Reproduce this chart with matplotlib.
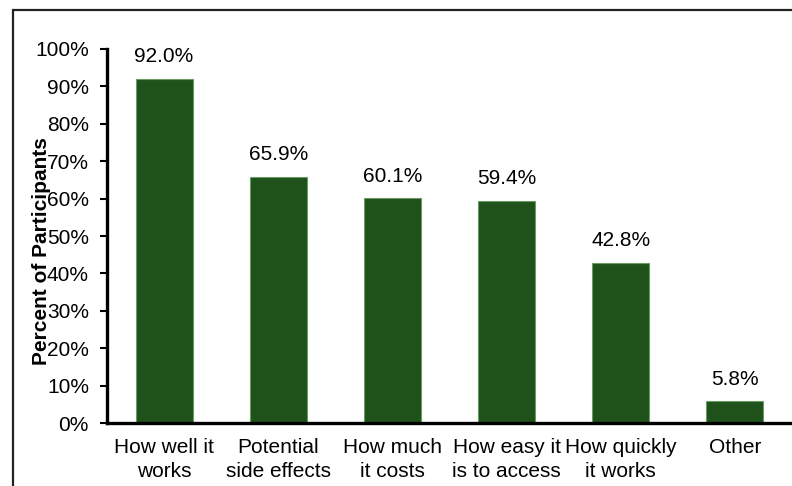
import matplotlib.pyplot as plt
from matplotlib.patches import Rectangle
from matplotlib.ticker import PercentFormatter, MultipleLocator

# share of participants naming each factor as important
factors = ['How well it\nworks', 'Potential\nside effects', 'How much\nit costs',
           'How easy it\nis to access', 'How quickly\nit works', 'Other']
percents = [92.0, 65.9, 60.1, 59.4, 42.8, 5.8]

plt.rcParams['font.family'] = ['Liberation Sans', 'DejaVu Sans']
plt.rcParams['font.size'] = 15

fig = plt.figure(figsize=(7.92, 4.86), dpi=100)
ax = fig.add_axes([107 / 792, 63 / 486, 685 / 792, 374 / 486])

bars = ax.bar(range(len(factors)), percents, width=0.5,
              color='#1f521b', edgecolor='#6a9a62', linewidth=0.8)

for b, v in zip(bars, percents):
    ax.annotate('%.1f%%' % v, (b.get_x() + b.get_width() / 2, v),
                xytext=(0, 9), textcoords='offset points',
                ha='center', va='bottom')

ax.set_xlim(-0.5, len(factors) - 0.5)
ax.set_ylim(0, 100)
ax.yaxis.set_major_locator(MultipleLocator(10))
ax.yaxis.set_major_formatter(PercentFormatter(decimals=0))
ax.set_xticks(range(len(factors)))
ax.set_xticklabels(factors, linespacing=1.3)

for s in ['top', 'right']:
    ax.spines[s].set_visible(False)
for s in ['left', 'bottom']:
    ax.spines[s].set_linewidth(2.4)
ax.tick_params(axis='y', length=5, width=1.5, pad=8)
ax.tick_params(axis='x', length=0, pad=11)

ax.set_ylabel('Percent of Participants', fontweight='bold')
ax.yaxis.set_label_coords(-0.082, 0.46)

# outer frame around the chart
fig.patches.append(Rectangle((13 / 792, -0.1), 1.1, 0.1 + 476 / 486,
                             transform=fig.transFigure, fill=False,
                             edgecolor='#222222', linewidth=1.6))

plt.savefig('out.png')
